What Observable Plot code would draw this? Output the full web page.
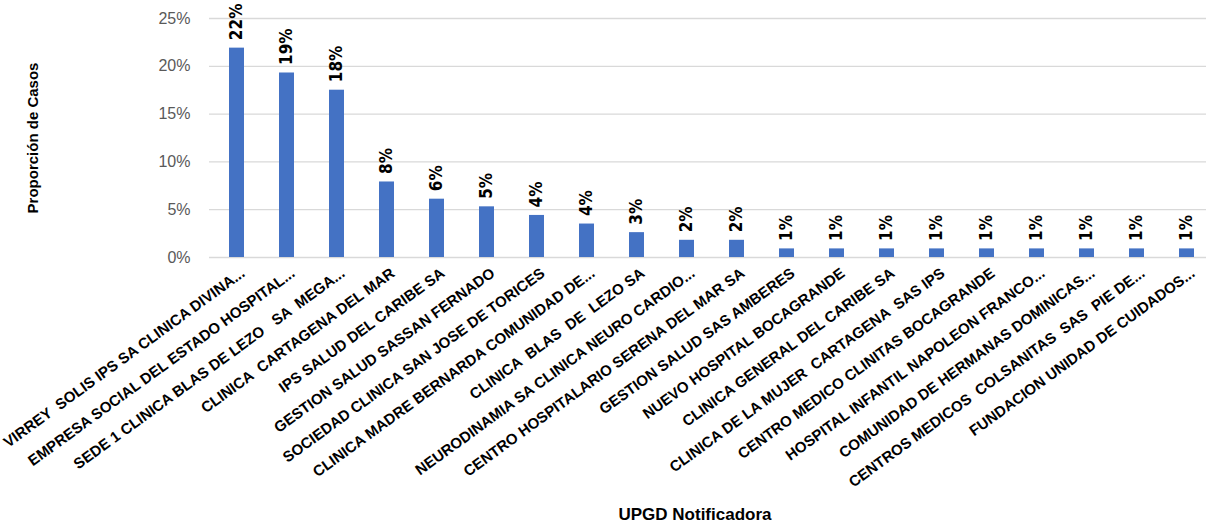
<!DOCTYPE html>
<html>
<head>
<meta charset="utf-8">
<script src="https://cdn.jsdelivr.net/npm/d3@7"></script>
<script src="https://cdn.jsdelivr.net/npm/@observablehq/plot@0.6"></script>
<style>
  html, body { margin: 0; padding: 0; background: #fff; }
  svg text { white-space: pre; }
</style>
</head>
<body>
<div id="chart"></div>
<script>
const categories = [
  "VIRREY  SOLIS IPS SA CLINICA DIVINA...",
  "EMPRESA SOCIAL DEL ESTADO HOSPITAL...",
  "SEDE 1 CLINICA BLAS DE LEZO   SA  MEGA...",
  "CLINICA  CARTAGENA DEL MAR",
  "IPS SALUD DEL CARIBE SA",
  "GESTION SALUD SASSAN FERNADO",
  "SOCIEDAD CLINICA SAN JOSE DE TORICES",
  "CLINICA MADRE BERNARDA COMUNIDAD DE...",
  "CLINICA  BLAS  DE  LEZO SA",
  "NEURODINAMIA SA CLINICA NEURO CARDIO...",
  "CENTRO HOSPITALARIO SERENA DEL MAR SA",
  "GESTION SALUD SAS AMBERES",
  "NUEVO HOSPITAL BOCAGRANDE",
  "CLINICA GENERAL DEL CARIBE SA",
  "CLINICA DE LA MUJER  CARTAGENA  SAS IPS",
  "CENTRO MEDICO CLINITAS BOCAGRANDE",
  "HOSPITAL INFANTIL NAPOLEON FRANCO...",
  "COMUNIDAD DE HERMANAS DOMINICAS...",
  "CENTROS MEDICOS  COLSANITAS  SAS  PIE DE...",
  "FUNDACION UNIDAD DE CUIDADOS..."
];
const values = [21.9, 19.3, 17.5, 7.9, 6.1, 5.3, 4.4, 3.5, 2.6, 1.8, 1.8, 0.9, 0.9, 0.9, 0.9, 0.9, 0.9, 0.9, 0.9, 0.9];
const valueLabels = ["22%", "19%", "18%", "8%", "6%", "5%", "4%", "4%", "3%", "2%", "2%", "1%", "1%", "1%", "1%", "1%", "1%", "1%", "1%", "1%"];
const yTicks = [0, 5, 10, 15, 20, 25];
const yTitle = "Proporción de Casos";
const xTitle = "UPGD Notificadora";

const data = categories.map((c, i) => ({cat: c, value: values[i], label: valueLabels[i]}));

const chart = Plot.plot({
  width: 1206,
  height: 522,
  marginTop: 18,
  marginBottom: 265,
  marginLeft: 209,
  marginRight: 0,
  style: {fontFamily: "'Liberation Sans', Arial, sans-serif", background: "#fff"},
  x: {type: "band", domain: categories, range: [209, 1213], paddingInner: 0.7, paddingOuter: 0.35},
  y: {domain: [0, 25]},
  marks: [
    Plot.gridY(yTicks, {stroke: "#d9d9d9", strokeOpacity: 1, strokeWidth: 1.3}),
    Plot.axisY(yTicks, {tickSize: 0, tickPadding: 19, tickFormat: d => d + "%", fontSize: 16, fill: "#595959", label: null}),
    Plot.axisX({tickSize: 0, tickRotate: -36, tickPadding: 8, dx: 6, dy: 6, fontSize: 15, fontWeight: "bold", fill: "#000", label: null}),
    Plot.barY(data, {x: "cat", y: "value", fill: "#4472c4"}),
    Plot.text(data, {x: "cat", y: "value", text: "label", rotate: -90, textAnchor: "start", lineAnchor: "middle", dy: -8,
      fontSize: 17, fontWeight: "bold", fill: "#000", fontFamily: "'Liberation Sans Narrow', 'DejaVu Sans Condensed', sans-serif"}),
    Plot.text([yTitle], {frameAnchor: "left", dx: -176, rotate: -90, textAnchor: "middle", lineAnchor: "middle", fontSize: 15, fontWeight: "bold", fill: "#000"}),
    Plot.text([xTitle], {frameAnchor: "bottom", dx: -13, dy: 262, fontSize: 17, fontWeight: "bold", fill: "#000"})
  ]
});
document.getElementById("chart").appendChild(chart);
</script>
</body>
</html>
